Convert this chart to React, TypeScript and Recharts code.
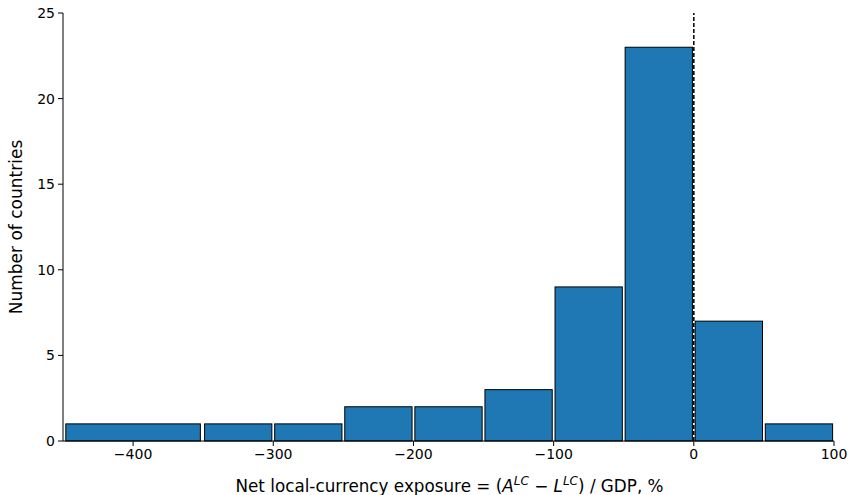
import { ComposedChart, XAxis, YAxis, ReferenceArea, ReferenceLine, Scatter } from "recharts";

// histogram bin edges (lo/hi) and counts
const binLo = [-450, -350, -300, -250, -200, -150, -100, -50, 0, 50];
const binHi = [-350, -300, -250, -200, -150, -100, -50, 0, 50, 100];
const counts = [1, 1, 1, 2, 2, 3, 9, 23, 7, 1];

const xTicks = [-400, -300, -200, -100, 0, 100];
const yTicks = [0, 5, 10, 15, 20, 25];

const FONT = "'DejaVu Sans', sans-serif";
const BLUE = "#1f77b4";

const rows = binLo.map((lo, i) => ({ mid: (lo + binHi[i]) / 2, n: counts[i] }));

const fmt = (v: number) => (v < 0 ? "\u2212" + Math.abs(v) : String(v));

// shrink like matplotlib rwidth so the bars have small gaps
const BarRect = (p: any) => {
  const inset = p.width * 0.02;
  return (
    <rect
      x={p.x + inset}
      y={p.y}
      width={p.width - 2 * inset}
      height={p.height}
      fill={BLUE}
      stroke="#000"
      strokeWidth={1}
    />
  );
};

const XLabel = (props: any) => {
  const vb = props.viewBox || { x: 63, width: 770, y: 441 };
  const cx = vb.x + vb.width / 2 + 1;
  return (
    <text x={cx} y={492} textAnchor="middle" fontSize={16.8} fontFamily={FONT} fill="#000">
      <tspan>Net local-currency exposure = (</tspan>
      <tspan fontStyle="italic">A</tspan>
      <tspan fontStyle="italic" fontSize={12} dy={-7}>LC</tspan>
      <tspan dy={7}> − </tspan>
      <tspan fontStyle="italic">L</tspan>
      <tspan fontStyle="italic" fontSize={12} dy={-7}>LC</tspan>
      <tspan dy={7}>) / GDP, %</tspan>
    </text>
  );
};

const YLabel = () => (
  <text
    x={0}
    y={0}
    transform="translate(22,227) rotate(-90)"
    textAnchor="middle"
    fontSize={17}
    fontFamily={FONT}
    fill="#000"
  >
    Number of countries
  </text>
);

export default function App() {
  const tick = { fill: "#000", fontSize: 14, fontFamily: FONT };
  return (
    <div style={{ position: "absolute", left: 0, top: 0, background: "#fff" }}>
      <ComposedChart
        width={848}
        height={495}
        data={rows}
        margin={{ top: 13, right: 14, left: 0, bottom: 0 }}
      >
        <XAxis
          dataKey="mid"
          type="number"
          domain={[-450, 100]}
          ticks={xTicks}
          tickFormatter={fmt}
          allowDataOverflow
          height={54}
          tick={tick}
          tickSize={5}
          tickMargin={3}
          axisLine={{ stroke: "#000", strokeWidth: 1 }}
          tickLine={{ stroke: "#000" }}
          label={{ content: XLabel }}
        />
        <YAxis
          type="number"
          domain={[0, 25]}
          ticks={yTicks}
          width={63}
          tick={tick}
          tickSize={5}
          tickMargin={3}
          axisLine={{ stroke: "#000", strokeWidth: 1 }}
          tickLine={{ stroke: "#000" }}
          label={{ content: YLabel }}
        />
        {binLo.map((lo, i) => (
          <ReferenceArea
            key={i}
            x1={lo}
            x2={binHi[i]}
            y1={0}
            y2={counts[i]}
            fillOpacity={1}
            ifOverflow="visible"
            shape={BarRect}
          />
        ))}
        <Scatter dataKey="n" isAnimationActive={false} shape={() => <g />} />
        <ReferenceLine
          x={0}
          stroke="#000"
          strokeWidth={1.5}
          strokeDasharray="4 2"
          ifOverflow="visible"
        />
      </ComposedChart>
    </div>
  );
}
